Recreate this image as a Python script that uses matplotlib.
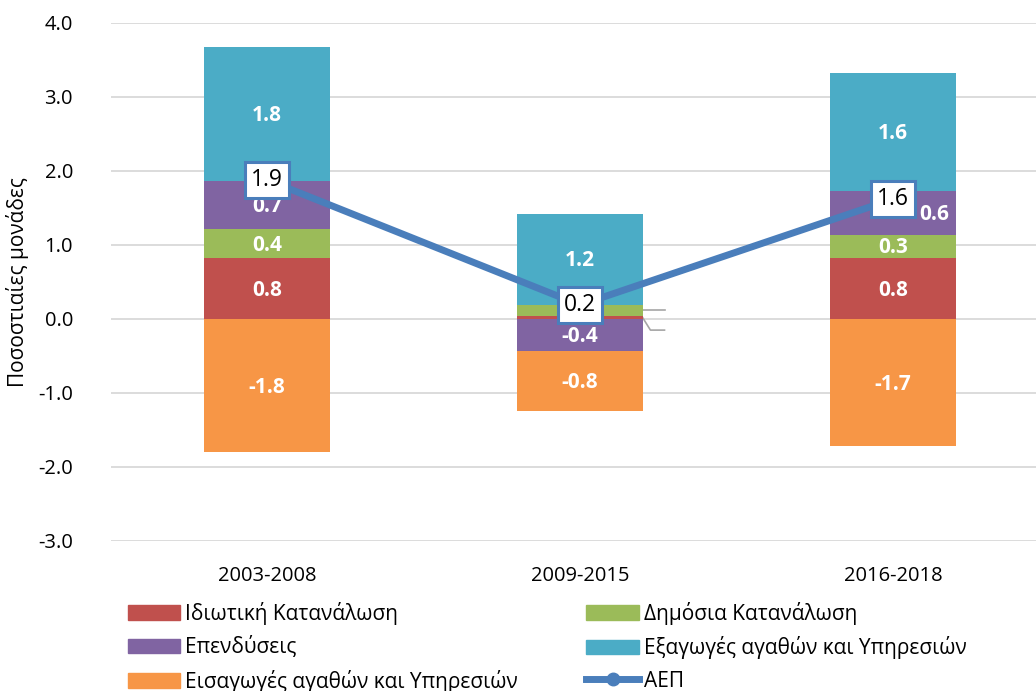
import matplotlib
matplotlib.use("Agg")
import matplotlib.pyplot as plt
from matplotlib.patches import Patch
from matplotlib.lines import Line2D
import numpy as np

plt.rcParams['font.family'] = ['Open Sans', 'DejaVu Sans']

periods = ["2003-2008", "2009-2015", "2016-2018"]
private_cons = [0.82, 0.04, 0.82]
public_cons = [0.39, 0.15, 0.32]
investment = [0.66, -0.43, 0.59]
exports = [1.80, 1.23, 1.60]
imports = [-1.80, -0.81, -1.72]
gdp = [1.88, 0.19, 1.62]

series = [
    ("Ιδιωτική Κατανάλωση", private_cons, "#C0504D"),
    ("Δημόσια Κατανάλωση", public_cons, "#9BBB59"),
    ("Επενδύσεις", investment, "#8064A2"),
    ("Εξαγωγές αγαθών και Υπηρεσιών", exports, "#4BACC6"),
    ("Εισαγωγές αγαθών και Υπηρεσιών", imports, "#F79646"),
]
line_color = "#4A7EBB"

fig = plt.figure(figsize=(10.36, 6.91), dpi=100)
ax = fig.add_axes([110.5/1036, 1-541/691, 1-110.5/1036, (541-23)/691])

x = np.arange(len(periods))
width = 0.4
pos_base = np.zeros(len(periods))
neg_base = np.zeros(len(periods))
for name, vals, col in series:
    vals = np.array(vals)
    bottoms = np.where(vals >= 0, pos_base, neg_base)
    ax.bar(x, vals, width, bottom=bottoms, color=col, zorder=2)
    for i, v in enumerate(vals):
        yc = bottoms[i] + v / 2
        if abs(v) >= 0.3:
            dx = 0.0
            # label partly hidden by GDP box is nudged right (as in reference)
            if name == "Επενδύσεις" and i == 2:
                dx = 0.13
            ax.text(x[i] + dx, yc - 0.02, f"{v:.1f}", ha='center', va='center', color='white',
                    fontsize=15, fontweight='bold', zorder=3)
        else:
            # small values: label outside bar with leader line (white text)
            xe = x[i] + width / 2
            if name.startswith("Δημ"):
                ty = yc
            else:
                ty = yc - 0.17
            ax.plot([xe, xe + 0.025, xe + 0.07], [yc, ty, ty], color='#A6A6A6', lw=1.2, zorder=1)
            ax.text(xe + 0.09, ty, f"{v:.1f}", ha='left', va='center', color='white',
                    fontsize=12, fontweight='bold', zorder=3)
    pos_base = np.where(vals >= 0, pos_base + vals, pos_base)
    neg_base = np.where(vals < 0, neg_base + vals, neg_base)

ax.plot(x, gdp, color=line_color, lw=5, marker='o', markersize=9, zorder=4,
        solid_capstyle='round')
for i, g in enumerate(gdp):
    ax.text(x[i], g, f"{g:.1f}", ha='center', va='center', fontsize=16.5, color='black', zorder=5,
            bbox=dict(boxstyle='square,pad=0.25', fc='white', ec=line_color, lw=2.2))

ax.set_ylim(-3, 4)
ax.set_xlim(-0.5, 2.5 - 13.5/313)
yt = np.arange(-3, 4.01, 1.0)
ax.set_yticks(yt)
ax.set_yticklabels([f"{v:.1f}" for v in yt], fontsize=14.5)
ax.set_xticks(x)
ax.set_xticklabels(periods, fontsize=14.5)
ax.yaxis.grid(True, color='#D9D9D9', lw=1.3, zorder=0)
ax.set_axisbelow(True)
for s in ax.spines.values():
    s.set_visible(False)
ax.tick_params(axis='x', length=0, pad=18)
ax.tick_params(axis='y', length=0, pad=27)
ax.set_ylabel("Ποσοστιαίες μονάδες", fontsize=15)
ax.yaxis.set_label_coords(-(110.5-29)/925.5, 0.5)

handles = [
    Patch(color=series[0][2], label=series[0][0]),
    Patch(color=series[2][2], label=series[2][0]),
    Patch(color=series[4][2], label=series[4][0]),
    Patch(color=series[1][2], label=series[1][0]),
    Patch(color=series[3][2], label=series[3][0]),
    Line2D([0], [0], color=line_color, lw=5, marker='o', markersize=9, label="ΑΕΠ"),
]
fig.legend(handles=handles, ncol=2, loc='upper left', bbox_to_anchor=(111/1036, 1-585/691),
           frameon=False, fontsize=15, handlelength=2.5, handleheight=0.7,
           columnspacing=3.3, labelspacing=0.55, handletextpad=0.25, borderpad=0.3)

fig.savefig("out.png", dpi=100)
